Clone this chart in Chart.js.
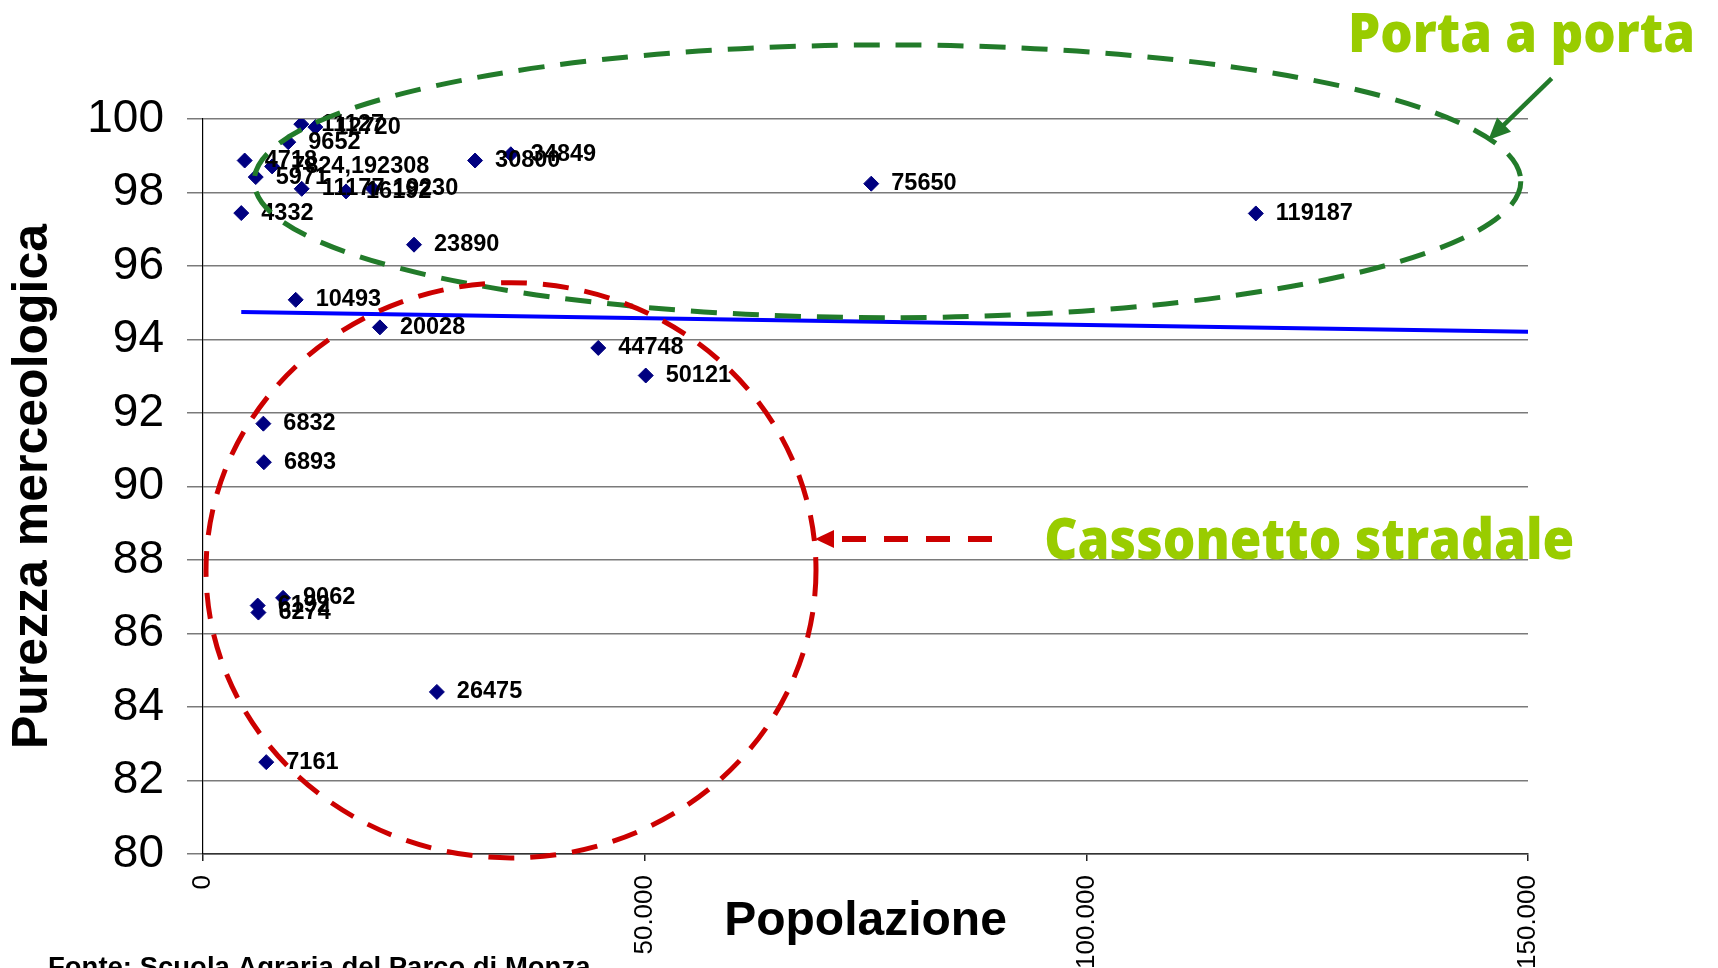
<!DOCTYPE html>
<html>
<head>
<meta charset="utf-8">
<title>Purezza merceologica vs Popolazione</title>
<script src="https://cdn.jsdelivr.net/npm/chart.js@4.4.1/dist/chart.umd.min.js"></script>
<style>
  html, body { margin: 0; padding: 0; background: #fff; }
  #wrap { position: relative; width: 1718px; height: 968px; }
</style>
</head>
<body>
<div id="wrap"><canvas id="chart" width="1718" height="968"></canvas></div>
<script>
// population (x) and merceological purity % (y) for each town
const popolazione = [11127, 12720, 9652, 4718, 7824.192308, 5971, 11177, 16192, 19230, 30800, 34849, 75650, 119187, 4332, 23890, 10493, 20028, 44748, 50121, 6832, 6893, 9062, 6192, 6274, 26475, 7161];
const purezza = [99.86, 99.78, 99.37, 98.87, 98.71, 98.42, 98.10, 98.03, 98.10, 98.87, 99.04, 98.24, 97.43, 97.44, 96.58, 95.08, 94.33, 93.77, 93.02, 91.71, 90.66, 86.97, 86.76, 86.57, 84.41, 82.50];

// linear trendline
const trendX = [4332, 150000];
const trendY = [94.75, 94.21];

const xTicks = [0, 50000, 100000, 150000];
const xTickLabels = ['0', '50.000', '100.000', '150.000'];

const FONT = '"Liberation Sans", Arial, sans-serif';

// numbers next to each point
const pointLabels = {
    id: 'pointLabels',
    afterDatasetsDraw(chart) {
        const meta = chart.getDatasetMeta(1);
        const ctx = chart.ctx;
        ctx.save();
        ctx.font = 'bold 23.5px ' + FONT;
        ctx.fillStyle = '#000';
        ctx.textBaseline = 'middle';
        meta.data.forEach((pt, i) => {
            ctx.fillText(String(popolazione[i]).replace('.', ','), pt.x + 20, pt.y);
        });
        ctx.restore();
    }
};

function arrowHead(ctx, x1, y1, x2, y2, len, half) {
    const a = Math.atan2(y2 - y1, x2 - x1);
    ctx.beginPath();
    ctx.moveTo(x2, y2);
    ctx.lineTo(x2 - len * Math.cos(a) + half * Math.sin(a), y2 - len * Math.sin(a) - half * Math.cos(a));
    ctx.lineTo(x2 - len * Math.cos(a) - half * Math.sin(a), y2 - len * Math.sin(a) + half * Math.cos(a));
    ctx.closePath();
    ctx.fill();
}

function fitText(ctx, text, x, y, w, size, weight, family) {
    ctx.font = weight + ' ' + size + 'px ' + family;
    const m = ctx.measureText(text).width;
    ctx.save();
    ctx.translate(x, y);
    ctx.scale(w / m, 1);
    ctx.fillText(text, 0, 0);
    ctx.restore();
}

// hand drawn slide annotations: ellipses, arrows, captions, source
const annotations = {
    id: 'annotations',
    afterDraw(chart) {
        const ctx = chart.ctx;
        ctx.save();

        // "porta a porta" ellipse
        ctx.strokeStyle = '#227B2A';
        ctx.lineWidth = 5;
        ctx.setLineDash([26, 16]);
        ctx.beginPath();
        ctx.ellipse(887.5, 181.3, 633.3, 136.4, 0, 0, Math.PI * 2);
        ctx.stroke();

        // "cassonetto" circle
        ctx.strokeStyle = '#CC0000';
        ctx.beginPath();
        ctx.ellipse(511, 570.3, 305, 287.6, 0, 0, Math.PI * 2);
        ctx.stroke();

        // red dashed arrow
        ctx.lineWidth = 6;
        ctx.setLineDash([24, 18]);
        ctx.beginPath();
        ctx.moveTo(992, 539);
        ctx.lineTo(833, 539);
        ctx.stroke();
        ctx.setLineDash([]);
        ctx.fillStyle = '#CC0000';
        arrowHead(ctx, 992, 539, 815, 539, 19, 9);

        // green solid arrow
        ctx.strokeStyle = '#227B2A';
        ctx.fillStyle = '#227B2A';
        ctx.lineWidth = 4.5;
        ctx.beginPath();
        ctx.moveTo(1551.7, 78.3);
        ctx.lineTo(1500, 128.6);
        ctx.stroke();
        arrowHead(ctx, 1551.7, 78.3, 1488.3, 140, 22, 10);

        // captions
        ctx.fillStyle = '#99CC00';
        ctx.textBaseline = 'alphabetic';
        fitText(ctx, 'Porta a porta', 1348, 51.7, 347, 55, 800, '"Open Sans", "DejaVu Sans", sans-serif');
        fitText(ctx, 'Cassonetto stradale', 1044.3, 558.6, 530, 56, 800, '"Open Sans", "DejaVu Sans", sans-serif');

        // source line (cut by the bottom edge)
        ctx.fillStyle = '#000';
        ctx.font = 'bold 27.5px ' + FONT;
        ctx.fillText('Fonte: Scuola Agraria del Parco di Monza', 48, 976);

        ctx.restore();
    }
};

const ctx = document.getElementById('chart').getContext('2d');
new Chart(ctx, {
    type: 'scatter',
    data: {
        datasets: [{
            type: 'line',
            label: 'Lineare',
            data: trendX.map((x, i) => ({ x: x, y: trendY[i] })),
            borderColor: '#0000FF',
            borderWidth: 4,
            pointRadius: 0,
            fill: false
        }, {
            label: 'Purezza',
            data: popolazione.map((x, i) => ({ x: x, y: purezza[i] })),
            pointStyle: 'rectRot',
            pointRadius: 7.5,
            pointBackgroundColor: '#000080',
            pointBorderColor: '#000080',
            pointBorderWidth: 1
        }]
    },
    options: {
        responsive: false,
        animation: false,
        layout: { padding: { top: 119, right: 190, left: 0, bottom: 0 } },
        plugins: {
            legend: { display: false },
            tooltip: { enabled: false }
        },
        scales: {
            x: {
                type: 'linear',
                min: 0,
                max: 150000,
                afterBuildTicks(scale) {
                    scale.ticks = xTicks.map(v => ({ value: v }));
                },
                afterFit(scale) { scale.height = 114; },
                ticks: {
                    minRotation: 90,
                    maxRotation: 90,
                    padding: 14,
                    color: '#000',
                    font: { family: FONT, size: 26 },
                    callback: (v) => xTickLabels[xTicks.indexOf(v)]
                },
                grid: {
                    drawOnChartArea: false,
                    drawTicks: true,
                    tickLength: 7,
                    color: '#222',
                    lineWidth: 1.5
                },
                border: { display: true, color: '#333', width: 1.5 },
                title: {
                    display: true,
                    text: 'Popolazione',
                    color: '#000',
                    font: { family: FONT, size: 48, weight: 'bold' },
                    padding: { top: 0, bottom: 17 }
                }
            },
            y: {
                min: 80,
                max: 100,
                afterFit(scale) { scale.width = 203; },
                ticks: {
                    stepSize: 2,
                    padding: 23,
                    color: '#000',
                    font: { family: FONT, size: 46 }
                },
                grid: {
                    color: '#7a7a7a',
                    lineWidth: 1.5,
                    drawTicks: true,
                    tickLength: 16
                },
                border: { display: true, color: '#000', width: 1.2 },
                title: {
                    display: true,
                    text: 'Purezza merceologica',
                    color: '#000',
                    font: { family: FONT, size: 50, weight: 'bold' },
                    padding: { top: 3, bottom: 0 }
                }
            }
        }
    },
    plugins: [pointLabels, annotations]
});
</script>
</body>
</html>
